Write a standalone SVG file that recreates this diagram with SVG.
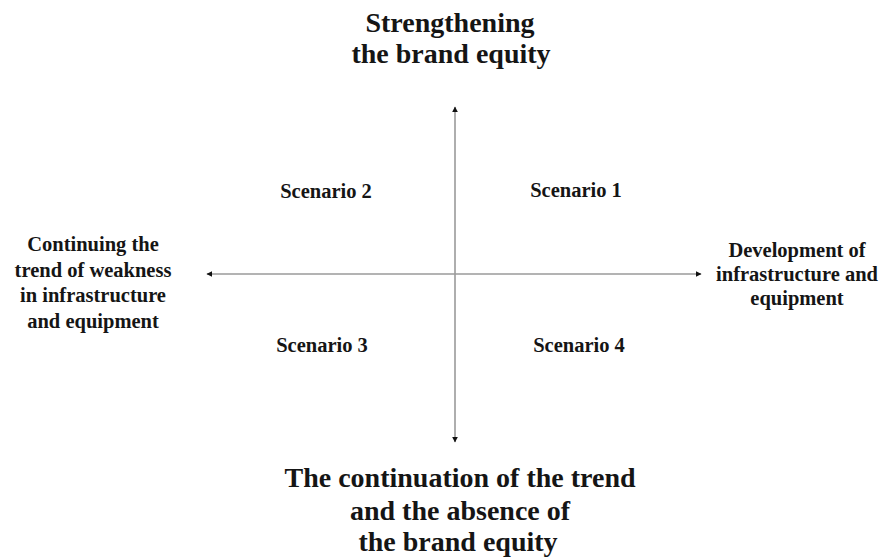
<svg xmlns="http://www.w3.org/2000/svg" width="893" height="558" viewBox="0 0 893 558">
<defs>
<style>
text{font-family:"Liberation Serif","Times New Roman",serif;font-weight:bold;fill:#151515;text-anchor:middle}
.t{font-size:28px}
.s{font-size:20.5px}
.a{stroke:#9a9a9a;stroke-width:1.6;fill:none}
</style>
<marker id="ah" viewBox="0 0 10 10" refX="9" refY="5" markerWidth="6" markerHeight="6" markerUnits="userSpaceOnUse" orient="auto">
<path d="M0,0 L10,5 L0,10 Z" fill="#111"/>
</marker>
</defs>
<rect width="893" height="558" fill="#fff"/>
<g id="connectors">
<line class="a" x1="455" y1="274" x2="455" y2="107" marker-end="url(#ah)"/>
<line class="a" x1="455" y1="274" x2="455" y2="442" marker-end="url(#ah)"/>
<line class="a" x1="455" y1="274" x2="207" y2="274" marker-end="url(#ah)"/>
<line class="a" x1="455" y1="274" x2="701" y2="274" marker-end="url(#ah)"/>
</g>
<g id="top">
<text class="t" x="450" y="32">Strengthening</text>
<text class="t" x="451" y="63">the brand equity</text>
</g>
<g id="bottom">
<text class="t" x="460" y="487">The continuation of the trend</text>
<text class="t" x="460" y="520">and the absence of</text>
<text class="t" x="458" y="551">the brand equity</text>
</g>
<g id="left">
<text class="s" x="93" y="251">Continuing the</text>
<text class="s" x="93" y="276.5">trend of weakness</text>
<text class="s" x="93" y="302">in infrastructure</text>
<text class="s" x="93" y="327.5">and equipment</text>
</g>
<g id="right">
<text class="s" x="797" y="257">Development of</text>
<text class="s" x="797" y="281">infrastructure and</text>
<text class="s" x="797" y="305">equipment</text>
</g>
<g id="s1"><text class="s" x="576" y="197">Scenario 1</text></g>
<g id="s2"><text class="s" x="326" y="198">Scenario 2</text></g>
<g id="s3"><text class="s" x="322" y="352">Scenario 3</text></g>
<g id="s4"><text class="s" x="579" y="352">Scenario 4</text></g>
</svg>
